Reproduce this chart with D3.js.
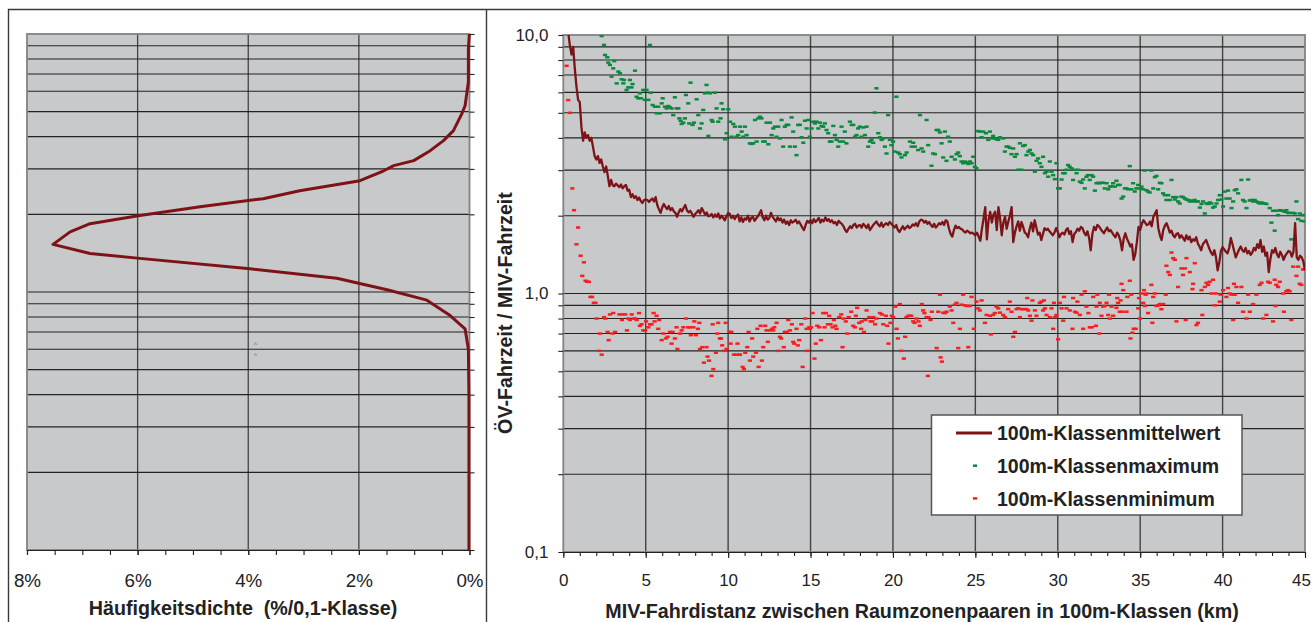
<!DOCTYPE html>
<html>
<head>
<meta charset="utf-8">
<script src="https://cdn.jsdelivr.net/npm/d3@7"></script>
<style>
  html, body { margin: 0; padding: 0; background: #fff; }
  svg { display: block; }
  text { font-family: "Liberation Sans", Arial, Helvetica, sans-serif; white-space: pre; }
</style>
</head>
<body>
<svg id="chart" width="1311" height="622"></svg>
<script>
// ---------------- data ----------------

// Frequency density of the travel-time ratio (left panel): ratio value and density in %
const densityRatio = [10.2, 8.75, 6.52, 5.27, 4.90, 4.22, 3.86, 3.53, 3.23, 3.09, 2.95, 2.70, 2.47, 2.30, 2.14, 1.98, 1.84, 1.71, 1.53, 1.41, 1.35, 1.23, 1.13, 1.02, 0.93, 0.81, 0.72, 0.60, 0.39, 0.10];
const densityPct   = [0.00, 0.02, 0.02, 0.08, 0.14, 0.29, 0.47, 0.71, 1.01, 1.37, 1.55, 1.98, 3.07, 3.73, 4.87, 5.96, 6.86, 7.22, 7.53, 6.86, 5.96, 3.97, 2.40, 1.49, 0.77, 0.35, 0.08, 0.02, 0.01, 0.01];

// 100 m distance classes (km) and class mean of the ratio OeV/MIV
const classStepKm = 0.1;
const meanValues = [
  13.5, 11.8, 10.2, 9.1, 8.4, 9.0, 7.4, 6.3, 5.6, 5.5,
  4.4, 3.9, 4.2, 4.0, 4.1, 3.9, 4.0, 3.7, 3.4, 3.3,
  3.4, 3.2, 3.3, 3.1, 2.95, 3.1, 2.85, 2.6, 2.75, 2.62,
  2.6, 2.66, 2.62, 2.58, 2.64, 2.55, 2.6, 2.63, 2.5, 2.52,
  2.36, 2.42, 2.34, 2.38, 2.3, 2.35, 2.28, 2.24, 2.3, 2.31,
  2.3, 2.26, 2.3, 2.33, 2.27, 2.36, 2.2, 2.12, 2.05, 2.15,
  2.22, 2.16, 2.12, 2.18, 2.1, 2.14, 2.08, 2.05, 1.98, 2.06,
  2.12, 2.08, 2.14, 2.2, 2.1, 2.06, 2.09, 2.04, 1.98, 2.03,
  2.06, 2.1, 2.04, 2.14, 2.08, 2.02, 2.06, 1.99, 2.0, 2.03,
  1.97, 2.02, 1.98, 2.04, 1.95, 2.0, 1.96, 1.92, 1.99, 2.05,
  2.03, 1.96, 2.0, 1.94, 1.99, 2.02, 1.9, 1.97, 1.89, 1.95,
  1.93, 2.0, 1.9, 1.96, 1.98, 1.91, 1.95, 1.99, 2.04, 2.1,
  1.97, 1.92, 2.0, 1.93, 1.96, 2.05, 1.98, 1.94, 1.9, 1.97,
  1.92, 1.95, 1.88, 1.93, 1.86, 1.9, 1.84, 1.92, 1.88, 1.9,
  1.93, 1.87, 1.9, 1.85, 1.8, 1.76, 1.84, 1.91, 1.88, 1.92,
  1.87, 1.94, 1.89, 1.92, 1.96, 1.88, 1.93, 1.9, 1.97, 1.91,
  1.94, 1.89, 1.92, 1.87, 1.89, 1.84, 1.91, 1.88, 1.86, 1.82,
  1.76, 1.73, 1.78, 1.82, 1.79, 1.84, 1.86, 1.8, 1.83, 1.84,
  1.8, 1.86, 1.83, 1.79, 1.85, 1.76, 1.8, 1.84, 1.87, 1.9,
  1.85, 1.82, 1.88, 1.81, 1.85, 1.87, 1.84, 1.89, 1.86, 1.83,
  1.8, 1.84, 1.76, 1.73, 1.78, 1.82, 1.77, 1.8, 1.83, 1.79,
  1.81, 1.85, 1.83, 1.87, 1.82, 1.9, 1.93, 1.92, 1.88, 1.91,
  1.86, 1.89, 1.84, 1.81, 1.86, 1.8, 1.83, 1.87, 1.85, 1.89,
  1.84, 1.92, 1.9, 1.78, 1.7, 1.66, 1.76, 1.83, 1.79, 1.81,
  1.78, 1.77, 1.74, 1.72, 1.75, 1.73, 1.71, 1.72, 1.7, 1.68,
  1.72, 1.66, 1.6, 1.78, 1.95, 2.16, 1.62, 1.92, 2.07, 1.88,
  2.02, 2.07, 1.76, 2.16, 1.95, 1.68, 1.88, 1.98, 1.78, 1.9,
  2.0, 2.16, 1.58, 1.72, 1.82, 1.9, 1.75, 1.89, 1.81, 1.72,
  1.7, 1.65, 1.78, 1.88, 1.74, 1.92, 1.8, 1.69, 1.72, 1.61,
  1.7, 1.79, 1.76, 1.78, 1.74, 1.71, 1.68, 1.72, 1.79, 1.73,
  1.65, 1.7, 1.72, 1.69, 1.76, 1.79, 1.7, 1.74, 1.58, 1.7,
  1.73, 1.78, 1.75, 1.81, 1.79, 1.72, 1.68, 1.74, 1.64, 1.47,
  1.7, 1.81, 1.76, 1.84, 1.82, 1.78, 1.74, 1.71, 1.76, 1.8,
  1.74, 1.76, 1.72, 1.68, 1.65, 1.72, 1.68, 1.6, 1.47, 1.63,
  1.71, 1.63, 1.58, 1.52, 1.55, 1.35, 1.42, 1.58, 1.81, 1.76,
  1.86, 1.92, 1.88, 1.84, 1.85, 1.9, 1.82, 1.98, 2.04, 2.1,
  1.79, 1.68, 1.61, 1.76, 1.83, 1.87, 1.8, 1.72, 1.75, 1.68,
  1.65, 1.7, 1.71, 1.64, 1.68, 1.64, 1.6, 1.68, 1.62, 1.66,
  1.58, 1.62, 1.6, 1.65, 1.56, 1.52, 1.47, 1.55, 1.58, 1.61,
  1.55, 1.49, 1.44, 1.41, 1.47, 1.38, 1.23, 1.32, 1.46, 1.51,
  1.48, 1.45, 1.43, 1.5, 1.64, 1.55, 1.46, 1.38, 1.43, 1.48,
  1.52, 1.47, 1.45, 1.5, 1.43, 1.46, 1.41, 1.44, 1.5, 1.47,
  1.55, 1.5, 1.61, 1.45, 1.52, 1.4, 1.44, 1.21, 1.36, 1.47,
  1.44, 1.5, 1.42, 1.38, 1.45, 1.41, 1.35, 1.4, 1.43, 1.46,
  1.45, 1.39, 1.45, 1.87, 1.38, 1.35, 1.4, 1.38, 1.33, 1.23
];

// Class maximum [km, ratio]
const maxPoints = [
  [2.33,9.91],[2.47,9.15],[2.53,8.37],[2.67,8.20],[2.73,7.82],[2.83,7.66],[2.93,6.90],[3.03,7.43],[3.09,7.93],[3.24,6.50],
  [3.34,7.22],[3.44,7.11],[3.54,6.74],[3.64,6.50],[3.68,6.70],[3.84,6.13],[3.94,6.27],[4.04,6.70],[4.14,6.27],[4.20,6.46],
  [4.35,7.28],[4.45,5.77],[4.55,5.69],[4.65,5.95],[4.71,5.69],[4.85,6.13],[4.95,5.61],[5.05,6.13],[5.16,5.61],[5.26,9.15],
  [5.30,5.98],[5.42,5.36],[5.56,5.28],[5.66,4.98],[5.76,5.28],[5.86,4.98],[5.97,5.44],[6.03,5.69],[6.17,5.28],[6.27,5.20],
  [6.37,5.31],[6.47,5.25],[6.57,5.20],[6.67,4.90],[6.77,5.74],[6.87,5.20],[6.98,5.20],[7.04,4.76],[7.12,4.66],[7.18,4.53],
  [7.28,4.58],[7.38,4.76],[7.44,5.86],[7.58,5.44],[7.64,4.55],[7.72,6.54],[7.84,4.49],[7.93,4.58],[8.09,5.64],[8.19,4.90],
  [8.29,4.35],[8.39,4.55],[8.49,5.13],[8.59,5.95],[8.69,6.41],[8.74,5.98],[8.80,4.07],[8.90,5.95],[9.00,4.69],[9.06,4.62],
  [9.20,5.98],[9.30,5.20],[9.40,4.62],[9.54,4.76],[9.60,5.44],[9.70,5.16],[9.81,3.95],[9.91,4.17],[10.01,5.16],[10.11,4.62],
  [10.21,4.04],[10.31,4.53],[10.41,4.42],[10.51,4.04],[10.61,4.10],[10.72,4.42],[10.82,4.23],[10.92,4.04],[11.02,4.42],[11.12,4.10],
  [11.32,3.81],[11.42,3.79],[11.52,3.81],[11.63,4.69],[11.73,3.87],[11.83,4.76],[11.93,4.83],[12.03,4.76],[12.13,3.87],[12.23,3.87],
  [12.33,4.58],[12.44,3.78],[12.54,4.58],[12.64,4.10],[12.74,4.35],[12.84,4.42],[12.94,4.04],[13.04,4.42],[13.14,3.98],[13.24,4.69],
  [13.34,3.70],[13.44,4.42],[13.55,4.49],[13.65,4.49],[13.75,3.70],[13.85,4.80],[13.95,4.23],[14.05,3.70],[14.15,3.43],[14.25,4.49],
  [14.35,4.49],[14.46,4.02],[14.56,3.83],[14.66,4.66],[14.76,4.35],[14.86,4.69],[14.96,4.04],[15.06,4.35],[15.16,4.62],[15.27,4.55],
  [15.37,4.62],[15.47,4.35],[15.57,4.58],[15.67,4.45],[15.77,4.42],[15.87,4.55],[15.97,4.29],[16.07,4.17],[16.17,3.87],[16.27,3.87],
  [16.38,4.45],[16.48,4.10],[16.58,3.93],[16.68,3.70],[16.78,3.87],[16.88,4.42],[16.98,3.87],[17.08,4.23],[17.18,3.81],[17.39,4.62],
  [17.49,4.49],[17.59,4.49],[17.69,4.04],[17.79,4.10],[17.89,4.35],[17.99,4.42],[18.09,4.04],[18.20,4.39],[18.30,4.10],[18.40,4.42],
  [18.50,3.70],[18.60,3.87],[18.70,3.93],[18.80,3.83],[18.90,5.01],[19.00,6.22],[19.11,4.17],[19.21,4.02],[19.31,3.93],[19.41,3.98],
  [19.51,3.70],[19.61,3.48],[19.71,4.90],[19.81,3.93],[19.91,3.75],[20.01,3.87],[20.11,3.54],[20.21,5.77],[20.32,3.51],[20.42,3.46],
  [20.52,3.36],[20.73,3.43],[20.83,3.51],[21.03,3.87],[21.13,3.70],[21.23,3.83],[21.33,3.70],[21.53,3.59],[21.64,4.90],[21.74,3.64],
  [21.84,3.54],[22.04,4.69],[22.14,3.75],[22.34,3.12],[22.44,3.48],[22.55,3.46],[22.65,4.29],[22.75,4.29],[22.85,4.20],[22.95,3.81],
  [23.05,3.36],[23.15,4.23],[23.25,3.26],[23.35,4.04],[23.45,3.87],[23.56,3.38],[23.76,3.30],[23.86,3.46],[23.96,3.51],[24.06,3.40],
  [24.16,3.24],[24.26,3.19],[24.36,3.24],[24.47,3.21],[24.57,3.17],[24.67,3.24],[24.77,3.19],[24.87,3.38],[24.97,3.09],[25.07,3.05],
  [25.17,4.25],[25.27,4.23],[25.38,4.02],[25.48,4.23],[25.64,4.17],[25.78,3.93],[25.88,4.23],[25.98,3.98],[26.08,4.07],[26.18,3.98],
  [26.28,3.95],[26.39,3.93],[26.49,4.02],[26.69,3.98],[26.79,3.54],[26.89,3.70],[26.99,3.70],[27.09,3.66],[27.19,3.46],[27.30,3.64],
  [27.40,3.38],[27.50,3.46],[27.60,3.01],[27.70,3.81],[27.80,3.01],[27.90,3.72],[28.00,3.75],[28.10,3.43],[28.21,3.54],[28.31,3.59],
  [28.41,3.48],[28.51,3.43],[28.61,2.96],[28.71,3.26],[28.81,3.33],[28.91,3.19],[29.01,3.09],[29.11,3.38],[29.22,2.92],[29.32,2.96],
  [29.42,2.83],[29.52,3.24],[29.62,2.96],[29.72,2.87],[29.82,2.77],[29.92,3.19],[30.02,2.55],[30.13,2.55],[30.23,2.76],[30.33,2.92],
  [30.43,2.92],[30.53,3.01],[30.63,3.14],[30.73,3.09],[30.83,3.05],[30.93,2.75],[31.04,3.01],[31.14,2.92],[31.24,3.01],[31.34,2.71],
  [31.44,2.68],[31.54,2.76],[31.64,2.55],[31.74,2.83],[31.84,2.87],[31.94,2.75],[32.05,2.87],[32.15,2.83],[32.25,2.50],[32.35,2.67],
  [32.45,2.68],[32.55,2.67],[32.65,2.68],[32.75,2.68],[32.85,2.55],[32.96,2.67],[33.06,2.53],[33.16,2.59],[33.26,2.60],[33.36,2.67],
  [33.46,2.59],[33.56,2.73],[33.66,2.63],[33.76,2.63],[33.87,2.33],[33.97,2.37],[34.07,2.55],[34.17,2.55],[34.27,2.53],[34.37,3.11],
  [34.47,2.53],[34.57,2.67],[34.67,2.48],[34.77,2.55],[34.88,2.63],[34.98,2.55],[35.08,2.59],[35.18,2.53],[35.28,2.99],[35.38,2.51],
  [35.48,2.48],[35.58,2.46],[35.68,2.99],[35.79,2.55],[35.89,2.82],[35.99,2.85],[36.09,2.53],[36.19,2.68],[36.29,2.67],[36.39,2.44],
  [36.49,2.40],[36.59,2.30],[36.70,2.40],[36.80,2.30],[36.90,2.75],[37.00,2.36],[37.10,2.31],[37.20,2.36],[37.30,2.27],[37.40,2.23],
  [37.50,2.37],[37.60,2.36],[37.71,2.33],[37.81,2.31],[37.91,2.30],[38.01,2.27],[38.11,2.29],[38.21,2.27],[38.31,2.30],[38.41,2.27],
  [38.51,2.27],[38.62,2.15],[38.72,2.22],[38.82,2.27],[38.92,2.04],[39.02,2.23],[39.12,2.22],[39.22,2.25],[39.32,2.23],[39.42,2.15],
  [39.53,2.17],[39.63,2.23],[39.73,2.30],[39.83,2.40],[39.93,2.31],[40.03,2.17],[40.13,2.48],[40.23,2.33],[40.33,2.50],[40.43,2.33],
  [40.54,2.14],[40.64,2.27],[40.74,2.51],[40.84,2.53],[40.94,2.44],[41.14,2.75],[41.24,2.30],[41.34,2.27],[41.45,2.14],[41.55,2.76],
  [41.65,2.29],[41.75,2.30],[41.85,2.27],[41.95,2.30],[42.05,2.27],[42.15,2.25],[42.25,2.23],[42.36,2.25],[42.46,2.23],[42.56,2.23],
  [42.66,2.22],[42.86,2.14],[42.96,1.88],[43.06,2.09],[43.16,1.75],[43.26,2.09],[43.37,2.01],[43.47,2.10],[43.57,2.09],[43.67,2.09],
  [43.77,2.07],[43.87,2.10],[43.97,2.05],[44.07,2.05],[44.17,1.62],[44.28,2.05],[44.38,2.04],[44.48,2.27],[44.58,1.94],[44.68,2.04],
  [44.78,1.91],[44.88,2.01],[44.98,1.90]
];

// Class minimum [km, ratio]
const minPoints = [
  [0.2,7.6],[0.3,5.6],[0.4,5.0],[0.55,2.55],[0.65,2.1],[0.8,1.55],[0.9,1.8],[1.05,1.4],[1.15,1.17],[1.25,1.32],
  [1.35,1.12],[1.45,1.11],[1.55,1.11],[1.65,0.97],[1.75,0.97],[1.85,0.92],[1.95,0.92],
  [2.02,0.80],[2.17,0.60],[2.23,0.70],[2.33,0.58],[2.47,0.81],[2.55,0.80],[2.69,0.71],[2.75,0.66],[2.83,0.83],[2.99,0.70],
  [3.03,0.84],[3.14,0.71],[3.40,0.83],[3.56,0.79],[3.60,0.83],[3.76,0.83],[3.86,0.72],[3.94,0.80],[4.04,0.79],[4.15,0.83],
  [4.25,0.80],[4.35,0.80],[4.45,0.79],[4.59,0.84],[4.65,0.75],[4.75,0.76],[4.85,0.72],[4.97,0.72],[5.02,0.78],[5.16,0.74],
  [5.26,0.76],[5.36,0.76],[5.48,0.84],[5.54,0.78],[5.66,0.82],[5.76,0.73],[5.82,0.79],[5.97,0.66],[6.07,0.70],[6.23,0.67],
  [6.33,0.68],[6.47,0.71],[6.57,0.64],[6.63,0.71],[6.77,0.67],[6.87,0.74],[6.92,0.61],[7.08,0.70],[7.18,0.72],[7.28,0.74],
  [7.44,0.80],[7.58,0.74],[7.68,0.74],[7.74,0.69],[7.89,0.74],[7.95,0.78],[8.05,0.69],[8.17,0.73],[8.25,0.77],[8.29,0.61],
  [8.43,0.62],[8.53,0.54],[8.69,0.62],[8.75,0.57],[8.84,0.55],[8.99,0.48],[9.06,0.76],[9.10,0.51],[9.26,0.59],[9.34,0.70],
  [9.40,0.77],[9.50,0.67],[9.56,0.67],[9.64,0.63],[9.77,0.60],[9.85,0.77],[9.91,0.61],[10.11,0.71],[10.15,0.64],[10.19,0.71],
  [10.35,0.58],[10.47,0.58],[10.57,0.64],[10.65,0.58],[10.72,0.58],[10.88,0.52],[10.96,0.51],[11.04,0.59],[11.16,0.62],[11.24,0.71],
  [11.32,0.55],[11.46,0.67],[11.52,0.57],[11.69,0.59],[11.77,0.73],[11.85,0.52],[11.97,0.75],[12.05,0.55],[12.13,0.62],[12.25,0.75],
  [12.33,0.72],[12.41,0.65],[12.53,0.72],[12.66,0.73],[12.74,0.72],[12.80,0.74],[12.94,0.77],[13.06,0.60],[13.14,0.68],[13.22,0.67],
  [13.38,0.62],[13.44,0.71],[13.55,0.71],[13.65,0.79],[13.75,0.72],[13.87,0.76],[13.95,0.65],[14.01,0.64],[14.15,0.73],[14.23,0.63],
  [14.31,0.66],[14.44,0.76],[14.52,0.52],[14.68,0.80],[14.76,0.73],[14.80,0.60],[14.92,0.74],[14.96,0.73],[15.04,0.74],[15.12,0.84],
  [15.24,0.56],[15.32,0.64],[15.41,0.75],[15.53,0.74],[15.63,0.66],[15.77,0.84],[15.85,0.74],[15.93,0.84],[16.05,0.76],[16.13,0.82],
  [16.21,0.76],[16.34,0.74],[16.42,0.79],[16.50,0.75],[16.58,0.73],[16.74,0.81],[16.86,0.83],[16.94,0.62],[16.98,0.80],[17.14,0.78],
  [17.22,0.70],[17.31,0.81],[17.47,0.85],[17.59,0.75],[17.69,0.74],[17.75,0.82],[17.83,0.88],[17.95,0.77],[18.07,0.73],[18.11,0.78],
  [18.24,0.71],[18.32,0.79],[18.40,0.86],[18.56,0.81],[18.64,0.78],[18.76,0.78],[18.80,0.81],[18.92,0.76],[19.00,0.80],[19.21,0.84],
  [19.33,0.83],[19.41,0.76],[19.57,0.82],[19.65,0.75],[19.73,0.64],[19.85,0.77],[19.93,0.82],[20.01,0.81],[20.14,0.89],[20.22,0.73],
  [20.30,0.67],[20.42,0.91],[20.50,0.60],[20.66,0.56],[20.74,0.68],[20.82,0.81],[20.94,0.82],[21.03,0.82],[21.11,0.82],[21.23,0.78],
  [21.31,0.77],[21.43,0.80],[21.55,0.78],[21.63,0.75],[21.75,0.91],[21.83,0.86],[21.91,0.84],[22.04,0.81],[22.12,0.48],[22.16,0.81],
  [22.28,0.79],[22.36,0.85],[22.65,0.615],[22.75,0.85],[22.85,0.99],[22.89,0.566],[22.97,0.545],[23.05,0.843],[23.15,0.84],[23.25,0.85],
  [23.45,0.89],[23.56,0.86],[23.66,0.77],[23.76,0.905],[23.86,0.92],[23.96,0.615],[24.06,0.73],[24.16,0.905],[24.26,0.99],[24.36,0.90],
  [24.47,0.895],[24.57,0.62],[24.67,0.895],[24.77,0.97],[24.91,0.73],[25.07,0.93],[25.17,0.876],[25.27,0.86],[25.38,0.94],[25.58,0.77],
  [25.68,0.826],[25.88,0.82],[25.94,0.695],[26.08,0.826],[26.18,0.84],[26.28,0.89],[26.39,0.876],[26.49,0.843],[26.69,0.826],[26.79,0.81],
  [26.99,0.87],[27.09,0.93],[27.19,0.85],[27.30,0.68],[27.40,0.71],[27.50,0.87],[27.60,0.876],[27.70,0.81],[27.80,0.87],[27.90,0.87],
  [28.10,0.87],[28.15,0.96],[28.21,0.86],[28.31,0.82],[28.41,0.785],[28.46,0.94],[28.61,0.86],[28.71,0.82],[28.91,0.92],[29.01,0.93],
  [29.11,0.86],[29.16,0.94],[29.22,0.876],[29.32,0.826],[29.52,0.81],[29.62,0.876],[29.72,0.73],[29.77,0.92],[29.82,0.81],[29.92,0.826],
  [30.02,0.665],[30.13,0.92],[30.23,0.876],[30.33,0.785],[30.38,0.97],[30.53,0.876],[30.73,0.86],[30.89,0.73],[30.93,0.96],[31.04,0.85],
  [31.14,0.843],[31.19,0.93],[31.34,0.826],[31.44,0.99],[31.54,0.73],[31.64,1.02],[31.74,0.89],[31.86,0.84],[31.94,0.74],[32.07,0.74],
  [32.15,0.97],[32.31,0.75],[32.35,0.89],[32.40,0.99],[32.51,0.70],[32.55,0.92],[32.65,0.82],[32.75,0.89],[32.85,0.895],[32.96,0.92],
  [33.06,0.826],[33.11,0.99],[33.16,0.80],[33.26,0.89],[33.36,0.82],[33.56,0.88],[33.61,0.96],[33.66,0.92],[33.76,0.85],[33.81,0.94],
  [33.87,1.09],[33.92,0.85],[33.97,1.03],[34.17,0.85],[34.22,0.97],[34.37,1.12],[34.41,0.67],[34.46,0.99],[34.53,0.705],[34.61,0.73],
  [34.73,0.73],[34.88,0.876],[34.93,0.96],[34.98,0.80],[35.08,1.00],[35.18,0.92],[35.23,1.03],[35.28,0.895],[35.33,0.99],[35.38,1.00],
  [35.48,0.84],[35.68,1.08],[35.74,0.77],[35.79,0.97],[35.89,1.00],[35.99,0.895],[36.09,0.90],[36.19,0.91],[36.29,0.87],[36.39,0.91],
  [36.55,0.99],[36.59,1.28],[36.70,1.21],[36.80,1.18],[36.90,1.44],[37.00,1.37],[37.10,1.35],[37.20,0.78],[37.30,1.06],[37.50,1.25],
  [37.60,1.18],[37.71,1.25],[37.76,0.79],[37.81,1.37],[38.01,1.21],[38.17,1.04],[38.21,1.09],[38.31,1.31],[38.41,0.755],[38.51,0.77],
  [38.72,1.03],[38.77,0.826],[38.92,1.06],[39.02,1.10],[39.12,1.08],[39.22,1.11],[39.32,1.00],[39.42,1.13],[39.53,0.90],[39.58,1.00],
  [39.83,0.93],[39.88,0.99],[40.03,1.03],[40.23,0.97],[40.33,1.05],[40.43,1.00],[40.54,0.99],[40.64,0.79],[40.69,1.09],[40.74,0.99],
  [40.84,1.06],[40.94,0.92],[41.14,1.06],[41.24,0.85],[41.45,0.80],[41.55,0.99],[41.65,0.85],[41.85,0.91],[42.05,0.99],[42.25,1.08],
  [42.36,1.10],[42.46,0.80],[42.66,0.826],[42.76,1.11],[42.86,1.10],[43.06,0.78],[43.16,1.13],[43.21,0.895],[43.26,1.08],[43.37,1.06],
  [43.47,1.11],[43.67,1.00],[43.72,0.85],[43.87,1.02],[43.97,1.03],[44.07,1.02],[44.17,0.79],[44.28,1.27],[44.48,1.17],[44.58,1.27],
  [44.68,1.09],[44.78,1.08],[44.88,1.24],[44.98,1.24]
];

// axis ticks and labels
const ratioGrid      = [0.2, 0.3, 0.4, 0.5, 0.6, 0.7, 0.8, 0.9, 1, 2, 3, 4, 5, 6, 7, 8, 9];
const ratioLabelled  = [0.1, 1, 10];
const kmMajorTicks   = [0, 5, 10, 15, 20, 25, 30, 35, 40, 45];
const kmMinorTicks   = d3.range(0, 46, 1);
const pctMajorTicks  = [8, 6, 4, 2, 0];
const pctMinorTicks  = [8, 7.5, 7, 6.5, 6, 5.5, 5, 4.5, 4, 3.5, 3, 2.5, 2, 1.5, 1, 0.5, 0];

const seriesNames = ["100m-Klassenmittelwert", "100m-Klassenmaximum", "100m-Klassenminimum"];
const leftTitle   = "Häufigkeitsdichte  (%/0,1-Klasse)";
const rightXTitle = "MIV-Fahrdistanz zwischen Raumzonenpaaren in 100m-Klassen (km)";
const rightYTitle = "ÖV-Fahrzeit / MIV-Fahrzeit";

// ---------------- styling ----------------
const PLOT_BG    = "#c8c9cb";
const GRID_H     = "#232323";
const GRID_V     = "#444444";
const FRAME      = "#838383";
const INK        = "#222222";
const MEAN_COLOR = "#7e1317";
const MAX_COLOR  = "#0a8a3c";
const MIN_COLOR  = "#fa1e1e";
const FONT       = '"Liberation Sans", Arial, sans-serif';

const svg = d3.select("#chart");
const locale = d3.formatLocale({ decimal: ",", thousands: ".", grouping: [3], currency: ["", " €"] });
const fmtRatio = locale.format(".1f");

// outer panel frames
svg.append("path")
  .attr("d", "M8.5,622V9.5H1311M486.5,9.5V622")
  .attr("fill", "none").attr("stroke", "#3a3a3a").attr("stroke-width", 1.4);

// ================= left panel: density =================
const xL = d3.scaleLinear().domain([8, 0]).range([27, 469.5]);
const yL = d3.scaleLog().domain([0.1, 10]).range([550, 34]);
const [lx0, lx1] = xL.range();
const [ly1, ly0] = yL.range();

const left = svg.append("g");
left.append("rect").attr("x", lx0).attr("y", ly0).attr("width", lx1 - lx0).attr("height", ly1 - ly0)
  .attr("fill", PLOT_BG);

left.selectAll("line.vgrid").data(pctMajorTicks.filter(d => d > 0 && d < 8)).join("line")
  .attr("class", "vgrid")
  .attr("x1", d => xL(d)).attr("x2", d => xL(d)).attr("y1", ly0).attr("y2", ly1)
  .attr("stroke", GRID_V).attr("stroke-width", 1.3);

left.selectAll("line.hgrid").data(ratioGrid).join("line")
  .attr("class", "hgrid")
  .attr("x1", lx0).attr("x2", lx1).attr("y1", d => yL(d)).attr("y2", d => yL(d))
  .attr("stroke", GRID_H).attr("stroke-width", 1.1);

left.append("rect").attr("x", lx0).attr("y", ly0).attr("width", lx1 - lx0).attr("height", ly1 - ly0)
  .attr("fill", "none").attr("stroke", FRAME).attr("stroke-width", 1.8);

// tick marks on the right edge of the density panel
const lyAxis = left.append("g").attr("transform", `translate(${lx1},0)`)
  .call(d3.axisRight(yL).tickValues([0.1, ...ratioGrid, 10]).tickSize(5).tickSizeOuter(0).tickFormat(""));
lyAxis.select(".domain").remove();
lyAxis.selectAll(".tick line").attr("stroke", INK).attr("stroke-width", 1.1);

// bottom axis of the density panel
const lxMinor = left.append("g").attr("transform", `translate(0,${ly1})`)
  .call(d3.axisBottom(xL).tickValues(pctMinorTicks).tickSize(5).tickSizeOuter(0).tickFormat(""));
lxMinor.select(".domain").attr("stroke", INK).attr("stroke-width", 1.2);
lxMinor.selectAll(".tick line").attr("stroke", INK).attr("stroke-width", 1.1);

const lxMajor = left.append("g").attr("transform", `translate(0,${ly1})`)
  .call(d3.axisBottom(xL).tickValues(pctMajorTicks).tickSize(5).tickSizeOuter(0).tickFormat(d => d + "%"));
lxMajor.select(".domain").remove();
lxMajor.selectAll(".tick line").attr("stroke", INK).attr("stroke-width", 1.1);
lxMajor.selectAll(".tick text")
  .attr("y", 37).attr("dy", null)
  .attr("font-size", 18.8).attr("fill", INK)
  .attr("font-family", FONT);

// density curve
const clipL = svg.append("clipPath").attr("id", "clip-left");
clipL.append("rect").attr("x", lx0 - 3).attr("y", ly0).attr("width", lx1 - lx0 + 6).attr("height", ly1 - ly0);

const densityData = densityRatio.map((r, i) => ({ r, p: densityPct[i] }));
left.append("path")
  .datum(densityData)
  .attr("clip-path", "url(#clip-left)")
  .attr("fill", "none").attr("stroke", MEAN_COLOR).attr("stroke-width", 3)
  .attr("stroke-linejoin", "round")
  .attr("d", d3.line().x(d => xL(d.p)).y(d => yL(d.r)));

// two faint caret marks inside the panel
left.selectAll("text.caret").data(["^", "^"]).join("text")
  .attr("class", "caret")
  .attr("x", 255.5).attr("y", (d, i) => 346.5 + i * 11)
  .attr("text-anchor", "middle").attr("font-size", 7).attr("fill", "#6a6a6a")
  .text(d => d);

left.append("text")
  .attr("x", 243).attr("y", 615)
  .attr("text-anchor", "middle").attr("font-size", 19.7).attr("font-weight", "bold").attr("fill", INK)
  .attr("xml:space", "preserve")
  .text(leftTitle);

// ================= right panel: ratio vs distance =================
const xR = d3.scaleLinear().domain([0, 45]).range([563.3, 1305]);
const yR = d3.scaleLog().domain([0.1, 10]).range([552, 35]);
const [rx0, rx1] = xR.range();
const [ry1, ry0] = yR.range();

const right = svg.append("g");
right.append("rect").attr("x", rx0).attr("y", ry0).attr("width", rx1 - rx0).attr("height", ry1 - ry0)
  .attr("fill", PLOT_BG);

right.selectAll("line.vgrid").data(kmMajorTicks.filter(d => d > 0 && d < 45)).join("line")
  .attr("class", "vgrid")
  .attr("x1", d => xR(d)).attr("x2", d => xR(d)).attr("y1", ry0).attr("y2", ry1)
  .attr("stroke", GRID_V).attr("stroke-width", 1.4);

right.selectAll("line.hgrid").data(ratioGrid).join("line")
  .attr("class", "hgrid")
  .attr("x1", rx0).attr("x2", rx1).attr("y1", d => yR(d)).attr("y2", d => yR(d))
  .attr("stroke", GRID_H).attr("stroke-width", 1.1);

right.append("rect").attr("x", rx0).attr("y", ry0).attr("width", rx1 - rx0).attr("height", ry1 - ry0)
  .attr("fill", "none").attr("stroke", FRAME).attr("stroke-width", 1.8);

// y axis
const ryAxis = right.append("g").attr("transform", `translate(${rx0},0)`)
  .call(d3.axisLeft(yR).tickValues([0.1, ...ratioGrid, 10]).tickSize(5).tickSizeOuter(0).tickPadding(9.8)
    .tickFormat(d => ratioLabelled.includes(d) ? fmtRatio(d) : ""));
ryAxis.select(".domain").remove();
ryAxis.selectAll(".tick line").attr("stroke", INK).attr("stroke-width", 1.1);
ryAxis.selectAll(".tick text")
  .attr("font-size", 17).attr("fill", INK)
  .attr("font-family", FONT);

// x axis
const rxMinor = right.append("g").attr("transform", `translate(0,${ry1})`)
  .call(d3.axisBottom(xR).tickValues(kmMinorTicks).tickSize(4).tickSizeOuter(0).tickFormat(""));
rxMinor.select(".domain").attr("stroke", INK).attr("stroke-width", 1.2);
rxMinor.selectAll(".tick line").attr("stroke", INK).attr("stroke-width", 1.1);

const rxMajor = right.append("g").attr("transform", `translate(0,${ry1})`)
  .call(d3.axisBottom(xR).tickValues(kmMajorTicks).tickSize(6).tickSizeOuter(0).tickFormat(d3.format("d")));
rxMajor.select(".domain").remove();
rxMajor.selectAll(".tick line").attr("stroke", INK).attr("stroke-width", 1.1);
rxMajor.selectAll(".tick text")
  .attr("y", 34).attr("dy", null)
  .attr("font-size", 17).attr("fill", INK)
  .attr("font-family", FONT);
// keep the last label inside the page edge
rxMajor.selectAll(".tick text").filter(d => d === 45).attr("text-anchor", "end").attr("x", 5.5);

// series
const clipR = svg.append("clipPath").attr("id", "clip-right");
clipR.append("rect").attr("x", rx0).attr("y", ry0).attr("width", rx1 - rx0).attr("height", ry1 - ry0);

const plot = right.append("g").attr("clip-path", "url(#clip-right)");

const DOT_W = 4.2, DOT_H = 2.5;
plot.append("g").selectAll("rect").data(maxPoints).join("rect")
  .attr("x", d => xR(d[0]) - DOT_W / 2).attr("y", d => yR(d[1]) - DOT_H / 2)
  .attr("width", DOT_W).attr("height", DOT_H).attr("fill", MAX_COLOR);

plot.append("g").selectAll("rect").data(minPoints).join("rect")
  .attr("x", d => xR(d[0]) - DOT_W / 2).attr("y", d => yR(d[1]) - DOT_H / 2)
  .attr("width", DOT_W).attr("height", DOT_H).attr("fill", MIN_COLOR);

const meanData = meanValues.map((v, i) => ({ km: (i + 1) * classStepKm, v }));
plot.append("path")
  .datum(meanData)
  .attr("fill", "none").attr("stroke", MEAN_COLOR).attr("stroke-width", 2.3)
  .attr("stroke-linejoin", "round")
  .attr("d", d3.line().x(d => xR(d.km)).y(d => yR(d.v)));

// axis titles
right.append("text")
  .attr("x", 922).attr("y", 618)
  .attr("text-anchor", "middle").attr("font-size", 19.7).attr("font-weight", "bold").attr("fill", INK)
  .text(rightXTitle);

right.append("text")
  .attr("transform", "translate(512,313) rotate(-90)")
  .attr("text-anchor", "middle").attr("font-size", 19.7).attr("font-weight", "bold").attr("fill", INK)
  .text(rightYTitle);

// legend
const legend = right.append("g").attr("transform", "translate(931.5,415)");
legend.append("rect").attr("width", 310.5).attr("height", 100)
  .attr("fill", "#ffffff").attr("stroke", "#555555").attr("stroke-width", 1.5);

const rows = legend.selectAll("g.item").data(seriesNames).join("g")
  .attr("class", "item")
  .attr("transform", (d, i) => `translate(0,${18 + i * 32.7})`);

rows.filter((d, i) => i === 0).append("line")
  .attr("x1", 24.5).attr("x2", 60.5).attr("y1", 0).attr("y2", 0)
  .attr("stroke", MEAN_COLOR).attr("stroke-width", 3);
rows.filter((d, i) => i === 1).append("rect")
  .attr("x", 43.5 - DOT_W / 2).attr("y", -DOT_H / 2).attr("width", DOT_W).attr("height", DOT_H)
  .attr("fill", MAX_COLOR);
rows.filter((d, i) => i === 2).append("rect")
  .attr("x", 43.5 - DOT_W / 2).attr("y", -DOT_H / 2).attr("width", DOT_W).attr("height", DOT_H)
  .attr("fill", MIN_COLOR);

rows.append("text")
  .attr("x", 65.5).attr("y", 7.3)
  .attr("font-size", 19.5).attr("font-weight", "bold").attr("fill", INK)
  .text(d => d);
</script>
</body>
</html>
